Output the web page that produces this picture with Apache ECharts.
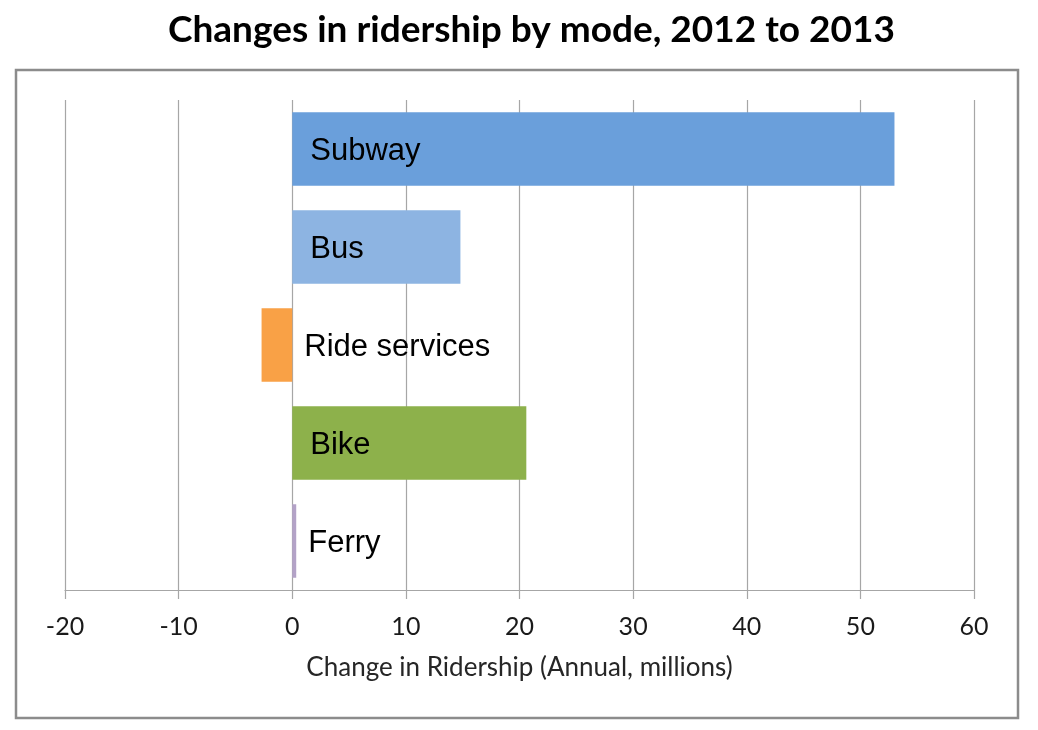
<!DOCTYPE html>
<html>
<head>
<meta charset="utf-8">
<script src="https://cdn.jsdelivr.net/npm/echarts@6/dist/echarts.min.js"></script>
<style>
html, body { margin: 0; padding: 0; background: #fff; }
#chart { width: 1038px; height: 730px; }
</style>
</head>
<body>
<div id="chart"></div>
<script>
var modes = ['Subway', 'Bus', 'Ride services', 'Bike', 'Ferry'];
var changes = [53.0, 14.8, -2.7, 20.6, 0.35]; // millions, annual
var barColors = ['#6a9fdb', '#8db4e2', '#f9a146', '#8db14b', '#b3a2c7'];
var xTicks = [-20, -10, 0, 10, 20, 30, 40, 50, 60];

var gridColor = '#a6a6a6';

var mycharts = echarts.init(document.getElementById('chart'));

// labels sit just right of the zero line, whatever the bar's sign
var barData = [];
for (var i = 0; i < modes.length; i++) {
	var small = changes[i] < 1;
	barData.push({
		value : changes[i],
		itemStyle : { color : barColors[i] },
		label : {
			position : small ? 'right' : 'insideLeft',
			distance : small ? 12 : 18
		}
	});
}

var option = {
	animation : false,
	title : {
		text : 'Changes in ridership by mode, 2012 to 2013',
		left : 163,
		top : 7,
		textStyle : {
			fontFamily : 'Lato',
			fontWeight : 'bold',
			fontSize : 37,
			color : '#000'
		}
	},
	graphic : [ {
		type : 'rect',
		shape : { x : 16, y : 70, width : 1002, height : 648 },
		style : { fill : 'none', stroke : '#8c8c8c', lineWidth : 2.5 },
		silent : true
	} ],
	grid : {
		left : 65,
		right : 64,
		top : 100,
		bottom : 140
	},
	xAxis : {
		type : 'value',
		min : xTicks[0],
		max : xTicks[xTicks.length - 1],
		interval : 10,
		name : 'Change in Ridership (Annual, millions)',
		nameLocation : 'middle',
		nameGap : 65,
		nameTextStyle : {
			fontFamily : 'Lato',
			fontSize : 26,
			color : '#262626'
		},
		axisLine : {
			show : true,
			onZero : false,
			lineStyle : { color : gridColor, width : 1.2 }
		},
		axisTick : {
			show : true,
			length : 9,
			lineStyle : { color : gridColor, width : 1.2 }
		},
		axisLabel : {
			margin : 24,
			fontFamily : 'Lato',
			fontSize : 25,
			color : '#1a1a1a'
		},
		splitLine : {
			show : true,
			lineStyle : { color : gridColor, width : 1.2 }
		}
	},
	yAxis : {
		type : 'category',
		inverse : true,
		data : modes,
		axisLine : { show : false },
		axisTick : { show : false },
		axisLabel : { show : false },
		splitLine : { show : false }
	},
	series : [ {
		name : 'Change',
		type : 'bar',
		barCategoryGap : '25%',
		data : barData,
		label : {
			show : true,
			formatter : function(p) {
				return p.name;
			},
			fontFamily : 'Liberation Sans',
			fontSize : 31,
			color : '#000',
			offset : [0, 2]
		}
	} ]
};
mycharts.setOption(option);
</script>
</body>
</html>
